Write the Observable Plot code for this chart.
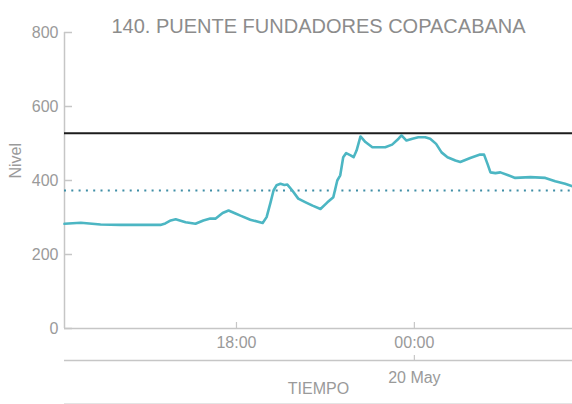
<!DOCTYPE html>
<html>
<head>
<meta charset="utf-8">
<script src="https://cdn.jsdelivr.net/npm/d3@7"></script>
<script src="https://cdn.jsdelivr.net/npm/@observablehq/plot@0.6"></script>
<style>
  html, body { margin: 0; padding: 0; background: #fff; }
  svg { display: block; }
</style>
</head>
<body>
<div id="chart"></div>
<script>
const title = "140. PUENTE FUNDADORES COPACABANA";
const yLabel = "Nivel";
const xLabel = "TIEMPO";

const times = [
  "2023-05-19T12:12Z","2023-05-19T12:45Z","2023-05-19T13:25Z","2023-05-19T14:05Z","2023-05-19T14:46Z",
  "2023-05-19T15:26Z","2023-05-19T15:36Z","2023-05-19T15:47Z","2023-05-19T15:57Z","2023-05-19T16:17Z",
  "2023-05-19T16:37Z","2023-05-19T16:53Z","2023-05-19T17:07Z","2023-05-19T17:18Z","2023-05-19T17:32Z",
  "2023-05-19T17:44Z","2023-05-19T17:58Z","2023-05-19T18:08Z","2023-05-19T18:28Z","2023-05-19T18:53Z",
  "2023-05-19T19:01Z","2023-05-19T19:09Z","2023-05-19T19:15Z","2023-05-19T19:21Z","2023-05-19T19:29Z",
  "2023-05-19T19:37Z","2023-05-19T19:43Z","2023-05-19T19:53Z","2023-05-19T20:05Z","2023-05-19T20:20Z",
  "2023-05-19T20:34Z","2023-05-19T20:50Z","2023-05-19T21:04Z","2023-05-19T21:16Z","2023-05-19T21:24Z",
  "2023-05-19T21:30Z","2023-05-19T21:36Z","2023-05-19T21:42Z","2023-05-19T21:51Z","2023-05-19T21:57Z",
  "2023-05-19T22:03Z","2023-05-19T22:11Z","2023-05-19T22:21Z","2023-05-19T22:35Z","2023-05-19T23:01Z",
  "2023-05-19T23:15Z","2023-05-19T23:28Z","2023-05-19T23:34Z","2023-05-19T23:44Z","2023-05-19T23:56Z",
  "2023-05-20T00:08Z","2023-05-20T00:22Z","2023-05-20T00:32Z","2023-05-20T00:44Z","2023-05-20T00:55Z",
  "2023-05-20T01:07Z","2023-05-20T01:23Z","2023-05-20T01:33Z","2023-05-20T01:53Z","2023-05-20T02:13Z",
  "2023-05-20T02:21Z","2023-05-20T02:28Z","2023-05-20T02:34Z","2023-05-20T02:44Z","2023-05-20T02:54Z",
  "2023-05-20T03:10Z","2023-05-20T03:24Z","2023-05-20T03:55Z","2023-05-20T04:25Z","2023-05-20T04:45Z",
  "2023-05-20T05:05Z","2023-05-20T05:20Z"
];
const levels = [
  283, 286, 281, 280, 280,
  280, 284, 292, 295, 287,
  283, 292, 297, 297, 312,
  319, 311, 305, 294, 285,
  301, 341, 373, 387, 391,
  388, 389, 373, 351, 341,
  332, 323, 341, 355, 400,
  414, 463, 474, 468, 463,
  481, 519, 504, 490, 490,
  497, 513, 522, 508, 513,
  517, 517, 513, 499, 476,
  463, 454, 450, 461, 470,
  470, 445, 422, 420, 422,
  414, 407, 409, 407, 398,
  391, 384
];

const upperLevel = [528];
const lowerLevel = [373];

const xDomain = ["2023-05-19T12:12Z", "2023-05-20T05:20Z"];
const yDomain = [0, 800];
const yTicks = [0, 200, 400, 600, 800];
const xTimeTicks = ["2023-05-19T18:00Z", "2023-05-20T00:00Z"];
const xDateTicks = ["2023-05-20T00:00Z"];
const xDateLabels = ["20 May"];

const data = times.map((t, i) => ({time: new Date(t), level: levels[i]}));
const xd = xDomain.map(d => new Date(d));
const timeTicks = xTimeTicks.map(d => new Date(d));
const dateTicks = xDateTicks.map(d => new Date(d));

const axisColor = "#c6c6c6";
const textColor = "#9a9a9a";

const chart = Plot.plot({
  width: 572,
  height: 404,
  marginLeft: 64,
  marginRight: 0,
  marginTop: 32,
  marginBottom: 76,
  style: {fontFamily: "'Liberation Sans', Arial, sans-serif", fontSize: "16px", color: textColor, background: "#fff"},
  x: {type: "utc", domain: xd},
  y: {domain: yDomain},
  marks: [
    Plot.ruleX([xd[0]], {stroke: axisColor, strokeWidth: 1.5}),
    Plot.ruleY([0], {stroke: axisColor, strokeWidth: 1.5}),
    Plot.ruleY([0], {stroke: axisColor, strokeWidth: 1.5, dy: 32}),
    Plot.ruleY([0], {stroke: "#e4e4e4", strokeWidth: 1, dy: 75}),
    Plot.axisY({ticks: yTicks, tickSize: -8, tickPadding: 14, stroke: axisColor, strokeWidth: 1.5, fill: textColor, label: null, fontSize: 16}),
    Plot.axisX({ticks: timeTicks, tickSize: -6, tickPadding: 14, tickFormat: d3.utcFormat("%H:%M"), stroke: axisColor, strokeWidth: 1.2, fill: textColor, label: null, fontSize: 16}),
    Plot.axisX({ticks: dateTicks, tickSize: -5, tickPadding: 16, dy: 32, tickFormat: (d, i) => xDateLabels[i], stroke: axisColor, strokeWidth: 1.2, fill: textColor, label: null, fontSize: 16}),
    Plot.ruleY(lowerLevel, {stroke: "#3f8ea6", strokeWidth: 2.2, strokeDasharray: "2,5.3"}),
    Plot.ruleY(upperLevel, {stroke: "#1c1c1c", strokeWidth: 2}),
    Plot.lineY(data, {x: "time", y: "level", stroke: "#4cb6c3", strokeWidth: 2.6, curve: "linear"}),
    Plot.text([title], {frameAnchor: "top", dy: -14, fontSize: 20, fill: "#8c8c8c"}),
    Plot.text([yLabel], {frameAnchor: "left", dx: -49, dy: -2, rotate: -90, fontSize: 16, fill: textColor}),
    Plot.text([xLabel], {frameAnchor: "bottom", dy: 65, fontSize: 16, fill: textColor})
  ]
});
document.getElementById("chart").appendChild(chart);
</script>
</body>
</html>
